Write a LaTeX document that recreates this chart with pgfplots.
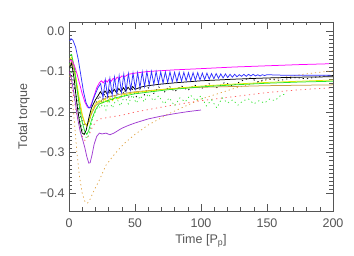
\documentclass[border=0pt]{standalone}
\usepackage{pgfplots}
\pgfplotsset{compat=1.18}
\usepackage{fontspec}
\setmainfont{Liberation Sans}
\definecolor{cblue}{RGB}{50,50,255}
\definecolor{cmag}{RGB}{255,0,255}
\definecolor{colive}{RGB}{200,155,70}
\definecolor{cgreen}{RGB}{40,230,40}
\definecolor{cyellow}{RGB}{235,235,0}
\definecolor{cpurple}{RGB}{160,60,210}
\definecolor{corange}{RGB}{225,165,70}
\definecolor{cred}{RGB}{255,90,90}
\definecolor{cgdot}{RGB}{60,230,60}
\definecolor{axgray}{RGB}{85,85,85}
\begin{document}
\begin{tikzpicture}
\useasboundingbox (-69pt,-45pt) rectangle (285pt,211pt);
\begin{axis}[
  at={(0,0)}, anchor=south west,
  scale only axis, width=264pt, height=189pt,
  xmin=0, xmax=200, ymin=-0.444, ymax=0.022,
  xtick={0,50,100,150,200},
  minor x tick num=4,
  ytick={0,-0.1,-0.2,-0.3,-0.4},
  yticklabels={0.0,−0.1,−0.2,−0.3,−0.4},
  minor y tick num=9,
  tick align=inside,
  major tick length=7pt, minor tick length=3.5pt,
  axis line style={axgray, line width=0.6pt},
  every tick/.style={axgray, line width=0.5pt},
  /pgf/number format/assume math mode=true,
  tick label style={font=\fontsize{12.5}{14}\selectfont, text=axgray},
  xticklabel style={yshift=-4pt},
  yticklabel style={xshift=-1pt},
  every axis y label/.style={at={(axis description cs:-0.1705,0.5)}, rotate=90, anchor=center, font=\fontsize{12.5}{14}\selectfont, text=axgray},
  every axis x label/.style={at={(axis description cs:0.5,-0.1587)}, anchor=center, font=\fontsize{12.5}{14}\selectfont, text=axgray},
  xlabel={Time [P\textsubscript{p}]},
  ylabel={Total torque},
  every axis plot/.append style={line width=0.75pt},
]
% orange dotted
\addplot[corange, dash pattern=on 1.2pt off 3pt] coordinates {
(0.5,-0.11)(2,-0.15)(4,-0.22)(6,-0.30)(8,-0.36)(10,-0.40)(12,-0.42)(14,-0.425)(16,-0.415)(19,-0.393)(23,-0.368)(28,-0.331)(35,-0.302)(42,-0.277)(50,-0.255)(60,-0.232)(75,-0.205)(100,-0.168)(125,-0.142)(150,-0.121)(175,-0.108)(200,-0.098)};
% red dotted
\addplot[cred, dash pattern=on 1.2pt off 3.5pt] coordinates {
(0.5,-0.1)(3,-0.15)(6,-0.21)(9,-0.255)(12,-0.27)(15,-0.258)(18,-0.235)(22,-0.218)(30,-0.213)(40,-0.208)(50,-0.2)(75,-0.185)(100,-0.172)(125,-0.162)(150,-0.152)(175,-0.145)(200,-0.14)};
% green dotted
\addplot[cgdot, dash pattern=on 1.2pt off 3pt] coordinates {
(0.5,-0.08)(3,-0.12)(6,-0.18)(9,-0.23)(12,-0.26)(14,-0.265)(16,-0.245)(18,-0.215)(20,-0.2)(22,-0.185)(24,-0.19)(26,-0.175)(28,-0.195)(30,-0.17)(33,-0.19)(36,-0.165)(39,-0.185)(42,-0.16)(45,-0.18)(48,-0.158)(51,-0.178)(54,-0.16)(57,-0.175)(60,-0.155)(64,-0.172)(68,-0.16)(72,-0.18)(76,-0.165)(80,-0.185)(84,-0.165)(88,-0.175)(92,-0.158)(96,-0.172)(100,-0.16)(104,-0.185)(108,-0.17)(112,-0.19)(116,-0.165)(120,-0.178)(124,-0.17)(128,-0.183)(132,-0.172)(136,-0.168)(140,-0.18)(144,-0.172)(148,-0.178)(152,-0.168)(156,-0.172)(160,-0.16)(164,-0.155)};
% black dotted
\addplot[black, dash pattern=on 1.2pt off 3pt] coordinates {
(0.5,-0.1)(3,-0.12)(6,-0.17)(9,-0.215)(12,-0.235)(14,-0.232)(17,-0.205)(20,-0.18)(23,-0.16)(25,-0.175)(27,-0.155)(29,-0.172)(31,-0.152)(33,-0.17)(36,-0.148)(39,-0.168)(42,-0.146)(45,-0.165)(48,-0.144)(51,-0.162)(54,-0.142)(57,-0.158)(60,-0.14)(64,-0.155)(68,-0.138)(72,-0.152)(76,-0.136)(80,-0.15)(85,-0.135)(90,-0.147)(95,-0.133)(100,-0.143)(106,-0.13)(112,-0.14)(118,-0.127)(124,-0.136)(130,-0.124)(137,-0.116)(143,-0.125)(150,-0.118)(160,-0.122)(170,-0.115)(180,-0.118)(190,-0.112)(200,-0.11)};
% purple
\addplot[cpurple] coordinates {
(0.5,-0.1)(2,-0.12)(4.5,-0.17)(6.5,-0.215)(8.5,-0.248)(10.5,-0.27)(12,-0.288)(13.5,-0.31)(15,-0.326)(16,-0.325)(17.5,-0.305)(19,-0.28)(21,-0.26)(23,-0.252)(25,-0.254)(28,-0.252)(31,-0.256)(34,-0.252)(37,-0.246)(40,-0.24)(45,-0.233)(50,-0.227)(60,-0.217)(70,-0.21)(80,-0.204)(90,-0.199)(100,-0.195)};
% olive
\addplot[colive] coordinates {
(0.5,-0.085)(2,-0.075)(4,-0.1)(6,-0.14)(8,-0.18)(10,-0.21)(12,-0.228)(13.5,-0.232)(15,-0.225)(17,-0.205)(20,-0.185)(25,-0.17)(30,-0.163)(40,-0.155)(50,-0.15)(75,-0.143)(100,-0.139)(125,-0.137)(150,-0.135)(175,-0.134)(200,-0.133)};
% yellow
\addplot[cyellow] coordinates {
(0.5,-0.07)(2,-0.065)(4,-0.09)(6,-0.13)(8,-0.17)(10,-0.205)(12,-0.228)(13.5,-0.235)(15,-0.225)(17,-0.2)(20,-0.18)(23,-0.172)(25,-0.178)(27,-0.168)(29,-0.175)(31,-0.165)(33,-0.172)(35,-0.162)(37,-0.168)(40,-0.158)(50,-0.152)(75,-0.143)(100,-0.136)(125,-0.131)(150,-0.127)(175,-0.124)(200,-0.121)};
% green
\addplot[cgreen] coordinates {
(0.5,-0.06)(2,-0.058)(4,-0.09)(6,-0.14)(8,-0.19)(10,-0.225)(12,-0.248)(13.5,-0.255)(15,-0.245)(17,-0.22)(20,-0.195)(23,-0.18)(27,-0.175)(35,-0.165)(50,-0.155)(75,-0.145)(100,-0.138)(125,-0.133)(150,-0.129)(175,-0.126)(200,-0.124)};
% black solid
\addplot[black] coordinates {
(0.5,-0.09)(2,-0.08)(4,-0.12)(6,-0.18)(8,-0.225)(10,-0.252)(11.5,-0.255)(13,-0.245)(15,-0.215)(17,-0.19)(20,-0.17)(22,-0.16)(23.75,-0.15)(25.5,-0.158)(27.25,-0.148)(29,-0.156)(30.75,-0.146)(32.5,-0.154)(34.25,-0.144)(36,-0.152)(37.75,-0.142)(39.5,-0.15)(41.25,-0.14)(43,-0.148)(44.75,-0.139)(46.5,-0.146)(48.25,-0.137)(50,-0.144)(55,-0.138)(60,-0.135)(70,-0.131)(80,-0.128)(100,-0.123)(125,-0.119)(150,-0.116)(175,-0.114)(200,-0.113)};
% magenta
\addplot[cmag] coordinates {
(0.5,-0.075)(2,-0.072)(4,-0.085)(6,-0.105)(8,-0.13)(10,-0.155)(12,-0.175)(14,-0.188)(15.5,-0.19)(17,-0.18)(19,-0.16)(21,-0.14)(23,-0.128)(24.5,-0.123)(26,-0.128)(27.5,-0.121)(29,-0.126)(30.5,-0.119)(32,-0.124)(33.5,-0.117)(35,-0.121)(36.5,-0.114)(38,-0.118)(40,-0.111)(42,-0.113)(45,-0.107)(50,-0.104)(60,-0.100)(80,-0.096)(100,-0.093)(125,-0.089)(150,-0.086)(175,-0.083)(197,-0.081)};
% blue
\addplot[cblue] coordinates {
(0.5,-0.025)(1.5,-0.019)(3,-0.023)(5,-0.04)(7,-0.07)(9,-0.11)(11,-0.15)(13,-0.178)(15,-0.19)(16.5,-0.188)(18,-0.172)(20,-0.155)(22,-0.14)
(24,-0.130)(25.75,-0.165)(27.5,-0.121)(29.25,-0.162)(31,-0.117)(32.75,-0.158)(34.5,-0.114)(36.25,-0.155)(38,-0.110)(39.75,-0.151)(41.5,-0.107)(43.25,-0.148)(45,-0.105)(46.75,-0.145)(48.5,-0.104)(50.25,-0.142)(52,-0.103)(53.75,-0.140)(55.5,-0.101)(57.25,-0.137)(59,-0.100)(60.75,-0.134)(62.5,-0.100)(64.25,-0.132)(66,-0.100)(67.75,-0.130)(69.5,-0.101)(71.25,-0.129)(73,-0.101)(74.75,-0.127)(76.5,-0.101)(78.25,-0.126)(80,-0.102)(81.75,-0.125)(83.5,-0.102)(85.25,-0.124)(87,-0.102)(88.75,-0.123)(90.5,-0.103)(92.25,-0.123)(94,-0.103)(95.75,-0.122)(97.5,-0.103)(99.25,-0.121)(101,-0.104)(102.75,-0.120)(104.5,-0.104)(106.25,-0.119)(108,-0.105)(109.75,-0.118)(111.5,-0.105)(113.25,-0.117)(115,-0.106)(116.75,-0.116)(118.5,-0.106)(120.25,-0.115)(122,-0.107)(123.75,-0.114)(125.5,-0.107)(127.25,-0.113)(129,-0.108)(130.75,-0.112)(132.5,-0.107)(134.25,-0.112)(136,-0.107)(137.75,-0.111)(139.5,-0.107)(141.25,-0.111)(143,-0.108)(144.75,-0.111)(146.5,-0.108)(148.25,-0.110)(150,-0.108)(160,-0.109)(175,-0.109)(198,-0.109)};
\end{axis}
\end{tikzpicture}
\end{document}
